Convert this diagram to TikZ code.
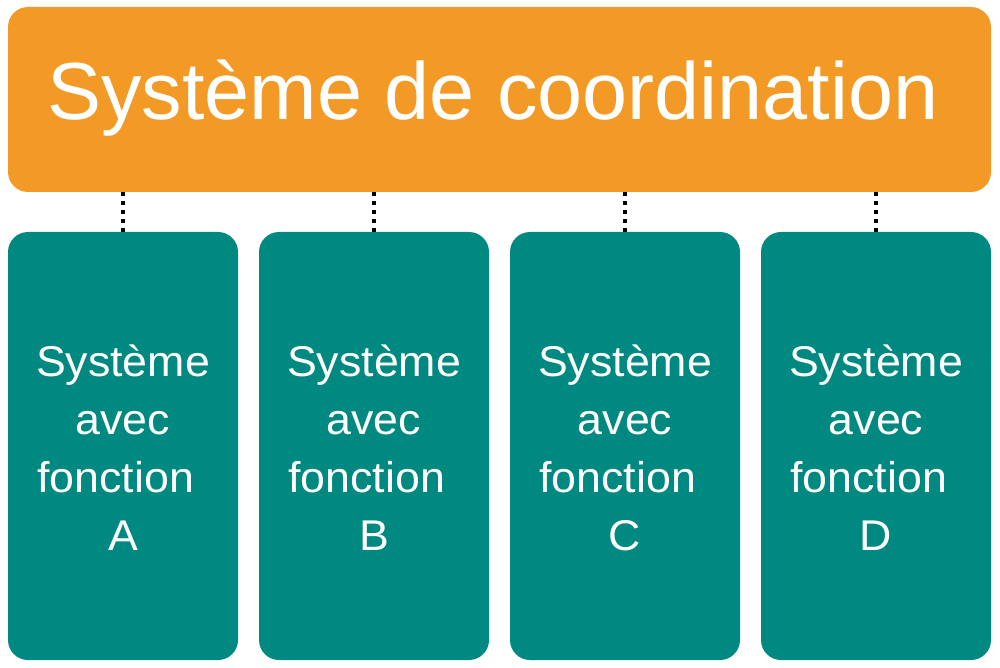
\documentclass[tikz,border=0pt]{standalone}
\usepackage{fontspec}
\setmainfont{Liberation Sans}
\definecolor{orangebox}{RGB}{243,154,38}
\definecolor{tealbox}{RGB}{0,137,128}
\tikzset{
  topbox/.style={fill=orangebox, draw=none, rounded corners=20pt, minimum width=983pt, minimum height=185pt, inner sep=0pt},
  subbox/.style={fill=tealbox, draw=none, rounded corners=20pt, minimum width=230pt, minimum height=428pt, inner sep=0pt},
  titletext/.style={text=white, font=\fontsize{81}{96}\selectfont, inner sep=0pt},
  subtext/.style={text=white, font=\fontsize{43}{58}\selectfont, align=center, inner sep=0pt, xscale=1.04},
  link/.style={draw=black, line width=3.5pt, dash pattern=on 4pt off 5pt}
}
\begin{document}
\begin{tikzpicture}[x=1pt,y=-1pt]
\useasboundingbox (0,0) rectangle (1000,668);
\node[topbox] (top) at (499.5,99.5) {};
\node[titletext, anchor=base] (title) at (493,120) {Système de coordination};
\foreach \n/\cx/\lab in {A/123/A, B/374/B, C/625/C, D/876/D}{
  \node[subbox] (\n) at (\cx,446) {};
  \node[subtext] (t\n) at (\cx,448) {Système\\avec\\fonction\rule{14pt}{0pt}\\\lab};
  \draw[link] (\n.north) -- (\n.north |- top.south);
}
\end{tikzpicture}
\end{document}
